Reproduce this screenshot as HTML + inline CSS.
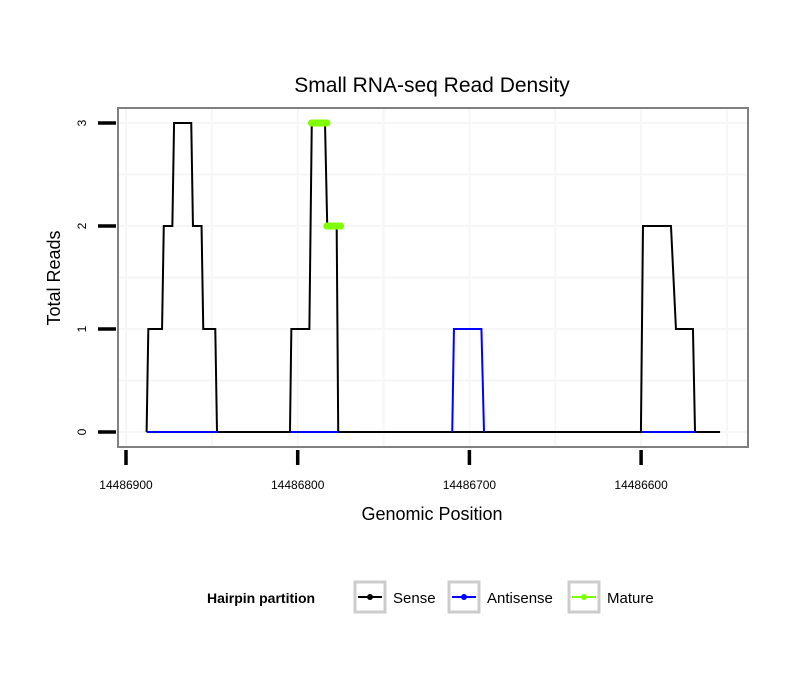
<!DOCTYPE html>
<html><head><meta charset="utf-8"><style>body{margin:0;background:#fff}svg{display:block;font-family:"Liberation Sans",sans-serif}</style></head>
<body>
<svg id="chart" width="810" height="690" viewBox="0 0 810 690" xmlns="http://www.w3.org/2000/svg">
<rect width="810" height="690" fill="#fff"/>
<text x="432" y="92" font-size="21" text-anchor="middle">Small RNA-seq Read Density</text>
<g id="grid"></g>
<g id="series"></g>
<rect x="118" y="108" width="630" height="339" fill="none" stroke="#808080" stroke-width="2"/>
<g id="axes"></g>
<text x="432" y="520" font-size="18" text-anchor="middle">Genomic Position</text>
<text transform="translate(60,278) rotate(-90)" font-size="18" text-anchor="middle">Total Reads</text>
<g>
<text x="207" y="603" font-size="14" font-weight="bold">Hairpin partition</text>
<g>
<rect x="355" y="582" width="30" height="30" fill="#fff" stroke="#ccc" stroke-width="3"/>
<line x1="358" y1="597" x2="382" y2="597" stroke="#000" stroke-width="2"/><circle cx="370" cy="597" r="3" fill="#000"/>
<text x="393" y="603" font-size="15">Sense</text></g>
<g>
<rect x="449" y="582" width="30" height="30" fill="#fff" stroke="#ccc" stroke-width="3"/>
<line x1="452" y1="597" x2="476" y2="597" stroke="#00f" stroke-width="2"/><circle cx="464" cy="597" r="3" fill="#00f"/>
<text x="487" y="603" font-size="15">Antisense</text></g>
<g>
<rect x="569" y="582" width="30" height="30" fill="#fff" stroke="#ccc" stroke-width="3"/>
<line x1="572" y1="597" x2="596" y2="597" stroke="#7fff00" stroke-width="2"/><circle cx="584" cy="597" r="3" fill="#7fff00"/>
<text x="607" y="603" font-size="15">Mature</text></g>
</g>
</svg>
<script>
const xTicks=[14486900,14486800,14486700,14486600];
const xTickLabels=["14486900","14486800","14486700","14486600"];
const yTicks=[0,1,2,3];
const yTickLabels=["0","1","2","3"];
const senseX=[14486888,14486887,14486879,14486878,14486873,14486872,14486862,14486861,14486856,14486855,14486848,14486847,14486804.5,14486803.7,14486793.2,14486791.8,14486784.1,14486782.8,14486777.3,14486776.4,14486600.1,14486598.9,14486582.6,14486579.7,14486569.8,14486568.6,14486554];
const senseY=[0,1,1,2,2,3,3,2,2,1,1,0,0,1,1,3,3,2,2,0,0,2,2,1,1,0,0];
const antiSegX=[[14486888,14486847],[14486804.5,14486776.4],[14486710,14486709,14486693,14486691.5],[14486600.1,14486568.6]];
const antiSegY=[[0,0],[0,0],[0,1,1,0],[0,0]];
const matureX=[[14486792,14486783],[14486783,14486775]];
const matureY=[3,2];
const NS="http://www.w3.org/2000/svg";
const X=v=>126+(14486900-v)*1.717;
const Y=v=>432-v*103;
function mk(t,a,p){const e=document.createElementNS(NS,t);for(const k in a)e.setAttribute(k,a[k]);p.appendChild(e);return e;}
const grid=document.getElementById('grid'),ser=document.getElementById('series'),ax=document.getElementById('axes');
for(let i=0;i<xTicks.length;i++){for(const v of [xTicks[i],xTicks[i]-50]){const g=mk('line',{x1:X(v),x2:X(v),y1:109,y2:446,stroke:'#f6f6f6','stroke-width':2},grid);

}}
for(let i=0;i<yTicks.length;i++){for(const v of [yTicks[i],yTicks[i]+0.5]){if(Y(v)<109)continue;const g=mk('line',{x1:119,x2:747,y1:Y(v),y2:Y(v),stroke:'#f6f6f6','stroke-width':2},grid);

}}
const sp=mk('polyline',{points:senseX.map((x,i)=>X(x)+','+Y(senseY[i])).join(' '),fill:'none',stroke:'#000','stroke-width':2},ser);


antiSegX.forEach((xs,j)=>{const p=mk('polyline',{points:xs.map((x,i)=>X(x)+','+Y(antiSegY[j][i])).join(' '),fill:'none',stroke:'#00f','stroke-width':2},ser);

});
matureX.forEach((xs,j)=>{const l=mk('line',{x1:X(xs[0]),x2:X(xs[1]),y1:Y(matureY[j]),y2:Y(matureY[j]),stroke:'#7fff00','stroke-width':7,'stroke-linecap':'round'},ser);

});
xTicks.forEach((v,i)=>{const t=mk('line',{x1:X(v),x2:X(v),y1:450,y2:465,stroke:'#000','stroke-width':3.5},ax);


const l=mk('text',{x:X(v),y:489,'font-size':12,'text-anchor':'middle'},ax);l.textContent=xTickLabels[i];

});
yTicks.forEach((v,i)=>{const t=mk('line',{x1:98,x2:116,y1:Y(v),y2:Y(v),stroke:'#000','stroke-width':3.5},ax);


const l=mk('text',{transform:`translate(86,${Y(v)}) rotate(-90)`,'font-size':12,'text-anchor':'middle'},ax);l.textContent=yTickLabels[i];

});
</script>
</body></html>
